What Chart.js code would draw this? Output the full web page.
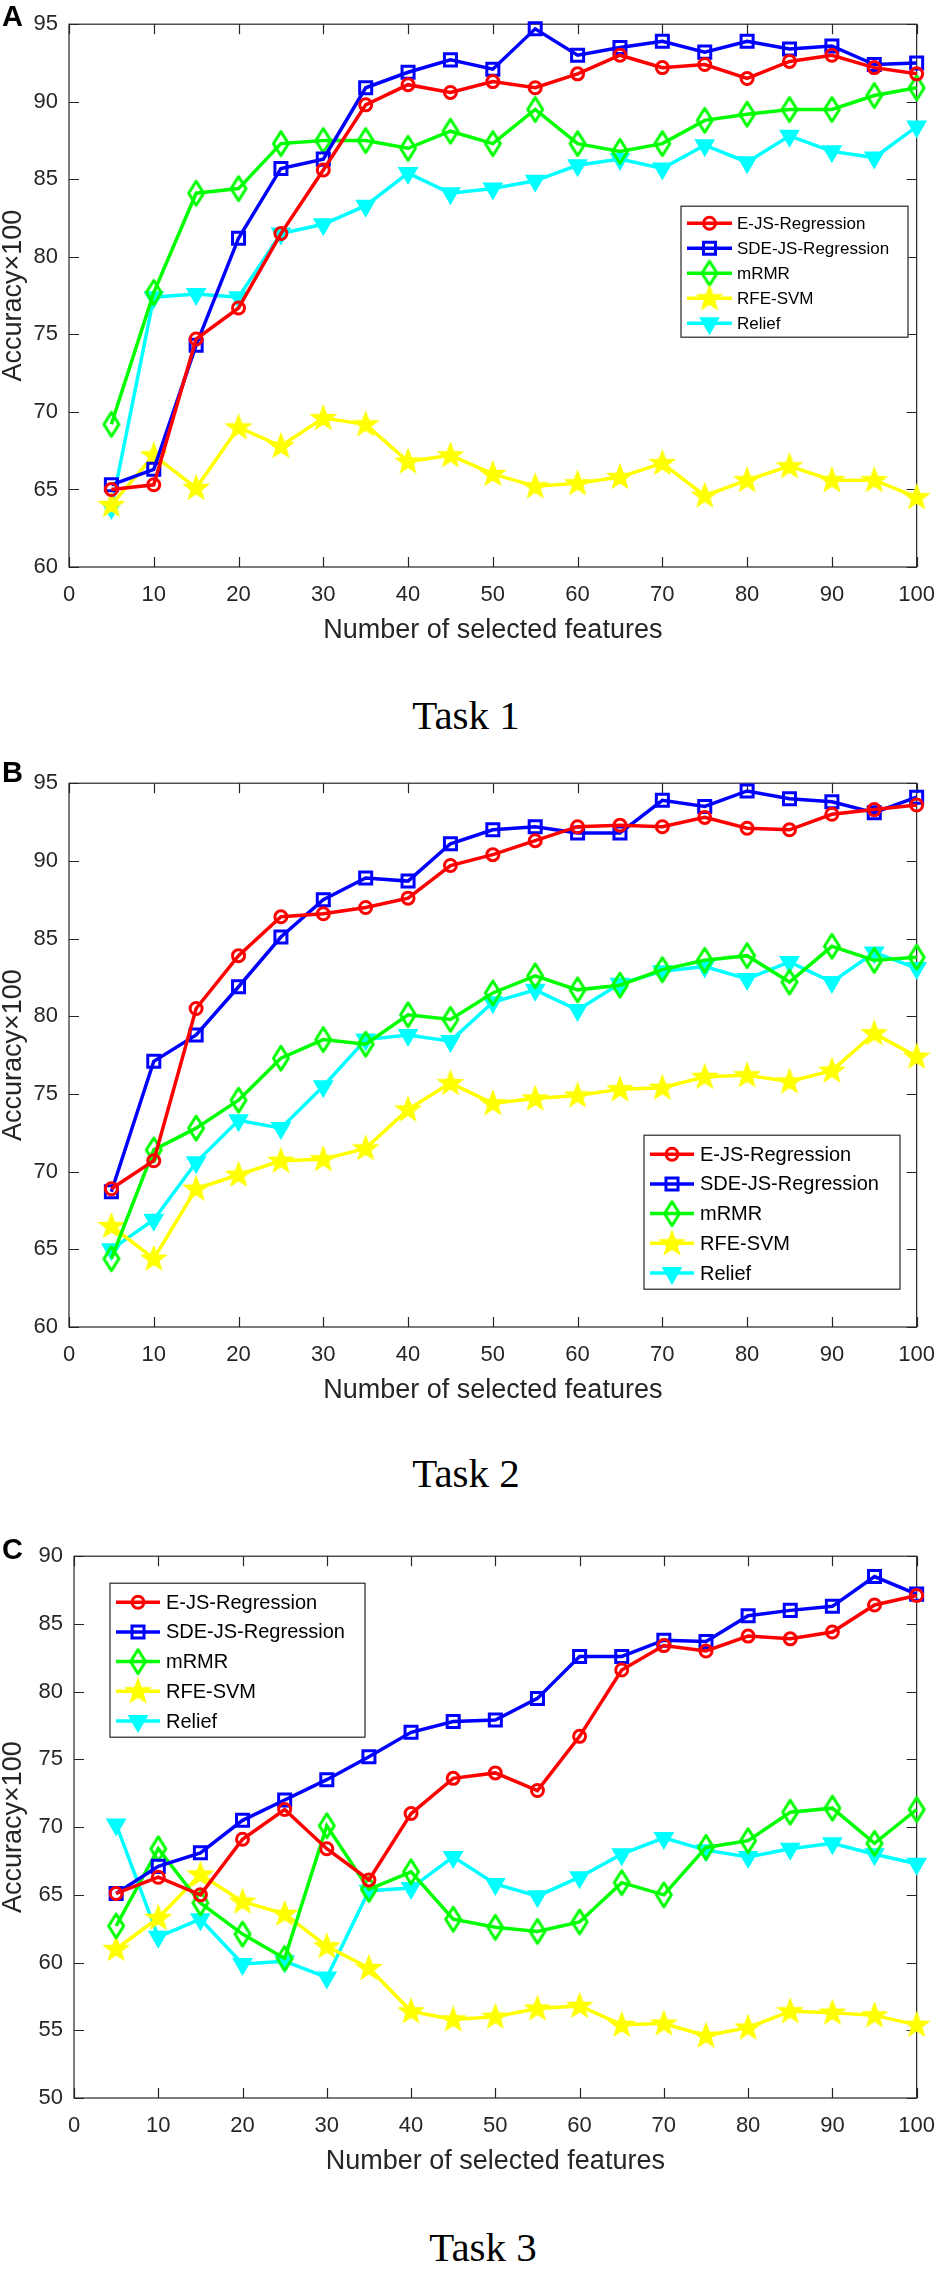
<!DOCTYPE html>
<html>
<head>
<meta charset="utf-8">
<script src="https://cdn.jsdelivr.net/npm/chart.js@4.4.1/dist/chart.umd.min.js"></script>
<style>
  html, body { margin: 0; padding: 0; background: #fff; }
  #page { position: relative; width: 950px; height: 2273px; background: #fff; overflow: hidden; }
  .panel { position: absolute; left: 0; }
  .tag { position: absolute; left: 2px; font: bold 29px "Liberation Sans", Arial, sans-serif; color: #000; line-height: 1; }
  .task { position: absolute; font: 41px "Liberation Serif", "Times New Roman", serif; color: #000;
          transform: translate(-50%, -50%); white-space: nowrap; line-height: 1; }
</style>
</head>
<body>
<div id="page">
  <canvas id="chartA" class="panel"></canvas>
  <canvas id="chartB" class="panel"></canvas>
  <canvas id="chartC" class="panel"></canvas>
  <div class="tag" style="top:2px">A</div>
  <div class="tag" style="top:758px">B</div>
  <div class="tag" style="top:1535px">C</div>
  <div class="task" style="left:466px;top:715px">Task 1</div>
  <div class="task" style="left:466px;top:1473px">Task 2</div>
  <div class="task" style="left:483px;top:2247px">Task 3</div>
</div>
<script>
// --- data ---
const features = [5, 10, 15, 20, 25, 30, 35, 40, 45, 50, 55, 60, 65, 70, 75, 80, 85, 90, 95, 100];
const xTicks = [0, 10, 20, 30, 40, 50, 60, 70, 80, 90, 100];
const seriesNames = ['E-JS-Regression', 'SDE-JS-Regression', 'mRMR', 'RFE-SVM', 'Relief'];
const xTitle = 'Number of selected features';
const yTitle = 'Accuracy×100';

// Task 1
const t1EJS    = [65.0, 65.3, 74.7, 76.7, 81.5, 85.6, 89.8, 91.1, 90.6, 91.3, 90.9, 91.8, 93.0, 92.2, 92.4, 91.5, 92.6, 93.0, 92.2, 91.8];
const t1SDE    = [65.3, 66.3, 74.3, 81.2, 85.7, 86.3, 90.9, 91.9, 92.7, 92.1, 94.7, 93.0, 93.5, 93.9, 93.2, 93.9, 93.4, 93.6, 92.4, 92.5];
const t1MRMR   = [69.2, 77.7, 84.1, 84.4, 87.3, 87.5, 87.5, 87.0, 88.1, 87.3, 89.5, 87.3, 86.8, 87.3, 88.8, 89.2, 89.5, 89.5, 90.4, 90.9];
const t1RFE    = [64.0, 67.2, 65.1, 69.0, 67.8, 69.6, 69.2, 66.8, 67.2, 66.0, 65.2, 65.4, 65.8, 66.7, 64.6, 65.6, 66.5, 65.6, 65.6, 64.5];
const t1Relief = [63.8, 77.4, 77.6, 77.4, 81.5, 82.1, 83.3, 85.4, 84.1, 84.4, 84.9, 85.9, 86.3, 85.7, 87.2, 86.1, 87.8, 86.8, 86.4, 88.4];

// Task 2
const t2EJS    = [68.9, 70.7, 80.5, 83.9, 86.4, 86.6, 87.0, 87.6, 89.7, 90.4, 91.3, 92.2, 92.3, 92.2, 92.8, 92.1, 92.0, 93.0, 93.3, 93.6];
const t2SDE    = [68.7, 77.1, 78.8, 81.9, 85.1, 87.5, 88.9, 88.7, 91.1, 92.0, 92.2, 91.8, 91.8, 93.9, 93.5, 94.5, 94.0, 93.8, 93.1, 94.1];
const t2MRMR   = [64.4, 71.4, 72.8, 74.6, 77.3, 78.5, 78.2, 80.1, 79.8, 81.5, 82.6, 81.7, 82.0, 83.0, 83.6, 83.9, 82.2, 84.5, 83.6, 83.8];
const t2RFE    = [66.5, 64.4, 68.9, 69.8, 70.7, 70.8, 71.5, 74.0, 75.7, 74.4, 74.7, 74.9, 75.3, 75.4, 76.1, 76.2, 75.8, 76.5, 78.9, 77.4];
const t2Relief = [65.0, 66.9, 70.6, 73.3, 72.8, 75.5, 78.5, 78.8, 78.4, 80.9, 81.7, 80.4, 82.1, 82.9, 83.2, 82.4, 83.5, 82.2, 84.1, 83.1];

// Task 3
const t3EJS    = [65.1, 66.3, 65.0, 69.1, 71.3, 68.4, 66.1, 71.0, 73.6, 74.0, 72.7, 76.7, 81.6, 83.4, 83.0, 84.1, 83.9, 84.4, 86.4, 87.1];
const t3SDE    = [65.1, 67.1, 68.1, 70.5, 72.0, 73.5, 75.2, 77.0, 77.8, 77.9, 79.5, 82.6, 82.6, 83.8, 83.7, 85.6, 86.0, 86.3, 88.5, 87.2];
const t3MRMR   = [62.7, 68.4, 64.4, 62.1, 60.3, 70.1, 65.4, 66.7, 63.2, 62.6, 62.3, 63.0, 65.9, 65.0, 68.5, 69.0, 71.1, 71.4, 68.8, 71.3];
const t3RFE    = [61.0, 63.3, 66.5, 64.5, 63.6, 61.2, 59.6, 56.4, 55.8, 56.0, 56.6, 56.8, 55.4, 55.5, 54.6, 55.2, 56.4, 56.3, 56.1, 55.4];
const t3Relief = [70.2, 61.9, 63.2, 59.9, 60.1, 58.9, 65.3, 65.5, 67.8, 65.8, 64.9, 66.3, 68.0, 69.2, 68.3, 67.8, 68.4, 68.8, 68.0, 67.3];

// --- styling ---
const axisColor = '#262626';
const fontFamily = '"Liberation Sans", Arial, sans-serif';
const colors = ['#ff0000', '#0000ff', '#00ff00', '#ffff00', '#00ffff'];
const lineW = 3.5;

function makeStar(color) {
  const c = document.createElement('canvas');
  c.width = 28; c.height = 28;
  const g = c.getContext('2d');
  g.translate(14, 14.5);
  g.beginPath();
  for (let i = 0; i < 10; i++) {
    const r = i % 2 ? 5.2 : 12.5;
    const a = -Math.PI / 2 + i * Math.PI / 5;
    g.lineTo(r * Math.cos(a), r * Math.sin(a));
  }
  g.closePath();
  g.fillStyle = color;
  g.fill();
  g.lineWidth = 1.5;
  g.strokeStyle = color;
  g.stroke();
  return c;
}

function makeDiamond(color) {
  const c = document.createElement('canvas');
  c.width = 22; c.height = 30;
  const g = c.getContext('2d');
  g.beginPath();
  g.moveTo(11, 3); g.lineTo(18.5, 15); g.lineTo(11, 27); g.lineTo(3.5, 15);
  g.closePath();
  g.lineWidth = 3;
  g.lineJoin = 'round';
  g.strokeStyle = color;
  g.stroke();
  return c;
}

const markers = [
  { pointStyle: 'circle', radius: 6, rotation: 0, fill: 'rgba(0,0,0,0)', borderWidth: 3 },
  { pointStyle: 'rect', radius: 8.5, rotation: 0, fill: 'rgba(0,0,0,0)', borderWidth: 3 },
  { pointStyle: makeDiamond(colors[2]), radius: 11, rotation: 0, fill: 'rgba(0,0,0,0)', borderWidth: 0 },
  { pointStyle: makeStar(colors[3]), radius: 13, rotation: 0, fill: 'rgba(0,0,0,0)', borderWidth: 0 },
  { pointStyle: 'triangle', radius: 10, rotation: 180, fill: colors[4], borderWidth: 2 }
];

// MATLAB-style box with inward ticks on all four sides
const boxAxes = {
  id: 'boxAxes',
  beforeDatasetsDraw(chart) {
    const { ctx, chartArea: a, scales: { x, y } } = chart;
    const tl = 10;
    ctx.save();
    ctx.strokeStyle = axisColor;
    ctx.lineWidth = 1.2;
    ctx.strokeRect(a.left, a.top, a.right - a.left, a.bottom - a.top);
    ctx.beginPath();
    x.ticks.forEach(t => {
      const px = Math.round(x.getPixelForValue(t.value)) + 0.5;
      ctx.moveTo(px, a.bottom); ctx.lineTo(px, a.bottom - tl);
      ctx.moveTo(px, a.top); ctx.lineTo(px, a.top + tl);
    });
    y.ticks.forEach(t => {
      const py = Math.round(y.getPixelForValue(t.value)) + 0.5;
      ctx.moveTo(a.left, py); ctx.lineTo(a.left + tl, py);
      ctx.moveTo(a.right, py); ctx.lineTo(a.right - tl, py);
    });
    ctx.stroke();
    ctx.restore();
  }
};

// legend box placed inside the axes like MATLAB's
const boxLegend = {
  id: 'boxLegend',
  afterDatasetsDraw(chart, args, opts) {
    const { ctx, chartArea: a } = chart;
    const bx = a.left + opts.x, by = a.top + opts.y;
    ctx.save();
    ctx.fillStyle = '#fff';
    ctx.fillRect(bx, by, opts.w, opts.h);
    ctx.strokeStyle = axisColor;
    ctx.lineWidth = 1.2;
    ctx.strokeRect(bx, by, opts.w, opts.h);
    ctx.font = opts.fontSize + 'px ' + fontFamily;
    ctx.textBaseline = 'middle';
    chart.data.datasets.forEach((ds, i) => {
      const cy = by + opts.first + i * opts.rowH;
      const x0 = bx + 6, x1 = bx + 6 + opts.sample;
      ctx.strokeStyle = ds.borderColor;
      ctx.lineWidth = lineW;
      ctx.beginPath(); ctx.moveTo(x0, cy); ctx.lineTo(x1, cy); ctx.stroke();
      if (Chart.helpers && Chart.helpers.drawPoint) {
        ctx.fillStyle = ds.pointBackgroundColor;
        ctx.strokeStyle = ds.borderColor;
        ctx.lineWidth = ds.pointBorderWidth;
        Chart.helpers.drawPoint(ctx, {
          pointStyle: ds.pointStyle, rotation: ds.pointRotation,
          radius: ds.pointRadius, borderWidth: ds.pointBorderWidth
        }, (x0 + x1) / 2, cy);
      }
      ctx.fillStyle = '#000';
      ctx.fillText(ds.label, bx + opts.textX, cy + 1);
    });
    ctx.restore();
  }
};

function buildDatasets(series) {
  return series.map((vals, i) => ({
    label: seriesNames[i],
    data: features.map((f, k) => ({ x: f, y: vals[k] })),
    borderColor: colors[i],
    backgroundColor: colors[i],
    borderWidth: lineW,
    tension: 0,
    clip: false,
    pointStyle: markers[i].pointStyle,
    pointRadius: markers[i].radius,
    pointRotation: markers[i].rotation,
    pointBackgroundColor: markers[i].fill,
    pointBorderColor: colors[i],
    pointBorderWidth: markers[i].borderWidth,
    pointHoverRadius: markers[i].radius
  }));
}

function makeChart(id, panel, series) {
  const cv = document.getElementById(id);
  const xh = 93;
  cv.width = 950;
  cv.height = 15 + panel.plotH + xh;
  cv.style.top = (panel.plotTop - 15) + 'px';
  const tickFont = { family: fontFamily, size: 22 };
  const titleFont = { family: fontFamily, size: 27, lineHeight: 1 };
  return new Chart(cv, {
    type: 'line',
    data: { datasets: buildDatasets(series) },
    options: {
      responsive: false,
      animation: false,
      events: [],
      layout: { padding: { top: 15, left: 0, bottom: 0, right: 950 - panel.plotRight } },
      plugins: {
        legend: { display: false },
        tooltip: { enabled: false },
        boxLegend: panel.legend
      },
      scales: {
        x: {
          type: 'linear', min: xTicks[0], max: xTicks[xTicks.length - 1],
          afterBuildTicks: s => { s.ticks = xTicks.map(v => ({ value: v })); },
          afterFit: s => { s.height = xh; },
          grid: { display: false, drawTicks: false },
          border: { display: false },
          ticks: { font: tickFont, color: axisColor, padding: 15, maxRotation: 0, autoSkip: false },
          title: { display: true, text: xTitle, font: titleFont, color: axisColor, padding: { top: 0, bottom: 16 } }
        },
        y: {
          type: 'linear', min: panel.yMin, max: panel.yMax,
          ticks: { stepSize: 5, font: tickFont, color: axisColor, padding: 11 },
          afterFit: s => { s.width = panel.plotLeft; },
          grid: { display: false, drawTicks: false },
          border: { display: false },
          title: { display: true, text: yTitle, font: titleFont, color: axisColor, padding: { top: 0, bottom: 0 } }
        }
      }
    },
    plugins: [boxAxes, boxLegend]
  });
}

makeChart('chartA',
  { plotTop: 15, plotH: 552, plotLeft: 69, plotRight: 930, yMin: 60, yMax: 95,
    legend: { x: 612, y: 182, w: 227, h: 131, fontSize: 17, rowH: 25, first: 17, sample: 45, textX: 56 } },
  [t1EJS, t1SDE, t1MRMR, t1RFE, t1Relief]);

makeChart('chartB',
  { plotTop: 774, plotH: 553, plotLeft: 69, plotRight: 930, yMin: 60, yMax: 95,
    legend: { x: 575, y: 352, w: 256, h: 154, fontSize: 20, rowH: 29.7, first: 19, sample: 44, textX: 56 } },
  [t2EJS, t2SDE, t2MRMR, t2RFE, t2Relief]);

makeChart('chartC',
  { plotTop: 1547, plotH: 551, plotLeft: 74, plotRight: 936, yMin: 50, yMax: 90,
    legend: { x: 36, y: 27, w: 255, h: 154, fontSize: 20, rowH: 29.7, first: 19, sample: 44, textX: 56 } },
  [t3EJS, t3SDE, t3MRMR, t3RFE, t3Relief]);
</script>
</body>
</html>
